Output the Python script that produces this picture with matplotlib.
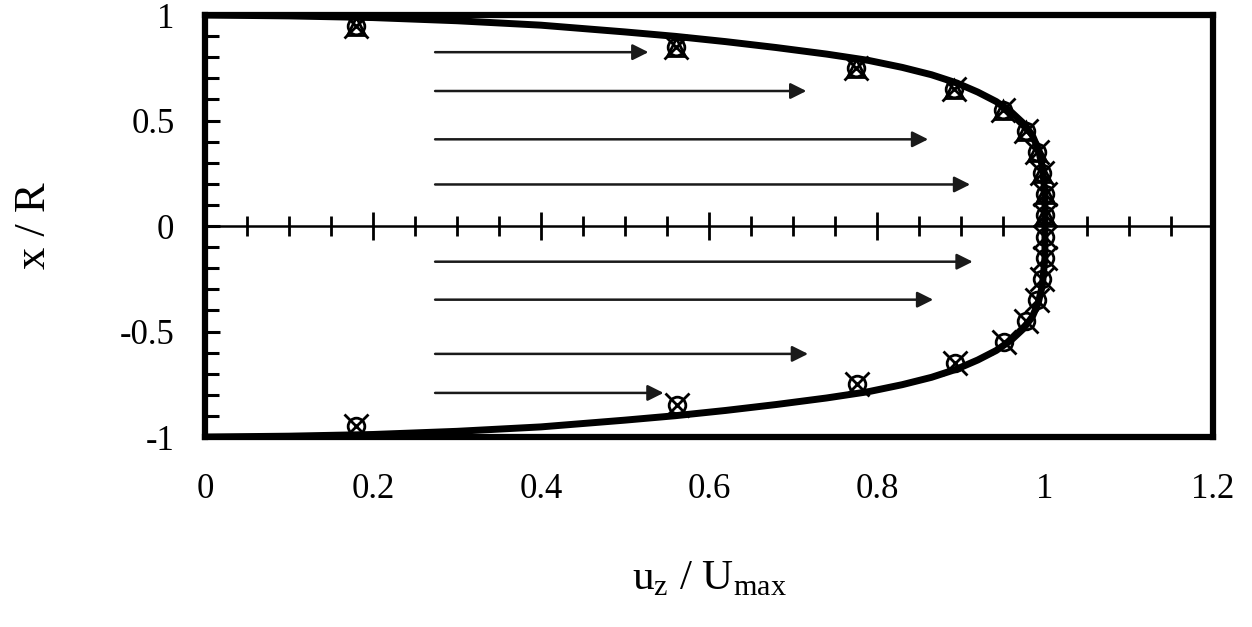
import numpy as np
import matplotlib
matplotlib.use("Agg")
import matplotlib.pyplot as plt
import matplotlib.ticker as mticker

plt.rcParams["font.family"] = ["Liberation Serif", "DejaVu Serif"]
plt.rcParams["mathtext.fontset"] = "custom"
plt.rcParams["mathtext.rm"] = "Liberation Serif"

# ── Data ──────────────────────────────────────────
# profile curve, upper half (u/Umax, x/R); mirrored for lower half
curve_u = [0.0, 0.10, 0.20, 0.30, 0.40, 0.50, 0.56, 0.62, 0.68, 0.74, 0.79,
           0.83, 0.865, 0.895, 0.92, 0.942, 0.96, 0.974, 0.985, 0.992, 0.997,
           1.0, 1.0]
curve_x = [1.0, 0.996, 0.988, 0.973, 0.952, 0.920, 0.899, 0.874, 0.846, 0.815,
           0.785, 0.752, 0.717, 0.678, 0.635, 0.590, 0.540, 0.488, 0.430,
           0.365, 0.280, 0.150, 0.0]

# measured points
pts_x_top = [0.95, 0.85, 0.75, 0.65, 0.55, 0.45, 0.35, 0.25, 0.15, 0.05]
pts_u_top = [0.18, 0.561, 0.775, 0.892, 0.950, 0.977, 0.990, 0.997, 1.0, 1.0]
pts_x_bot = [-0.05, -0.15, -0.25, -0.35, -0.45, -0.55, -0.65, -0.75, -0.85, -0.95]
pts_u_bot = [1.0, 1.0, 0.997, 0.991, 0.977, 0.951, 0.893, 0.776, 0.562, 0.18]

# velocity arrows
arrow_start = 0.274
arrow_x = [0.824, 0.64, 0.411, 0.197, -0.169, -0.349, -0.606, -0.791]
arrow_end = [0.528, 0.716, 0.861, 0.911, 0.914, 0.867, 0.718, 0.546]

# ── Plot ──────────────────────────────────────────
fig = plt.figure(figsize=(12.52, 6.27), dpi=100)
ax = fig.add_axes([0.1637, 0.303, 0.8051, 0.673])

cu = np.array(curve_u)
cx = np.array(curve_x)
full_u = np.concatenate([cu, cu[::-1][1:]])
full_x = np.concatenate([cx, -cx[::-1][1:]])

all_u = pts_u_top + pts_u_bot
all_x = pts_x_top + pts_x_bot
ax.plot(all_u, all_x, "o", ms=12, mfc="none", mec="black", mew=2.0, zorder=3)
ax.plot(all_u, all_x, "x", ms=17, mec="black", mew=2.0, zorder=3)
ax.plot(pts_u_top, pts_x_top, "^", ms=13, mfc="none", mec="black", mew=2.0, zorder=3)

ax.plot(full_u, full_x, color="black", lw=5, solid_joinstyle="round", zorder=4)

for y, e in zip(arrow_x, arrow_end):
    ax.annotate("", xy=(e, y), xytext=(arrow_start, y),
                arrowprops=dict(arrowstyle="-|>", color="#1a1a1a", lw=1.8,
                                mutation_scale=24, shrinkA=0, shrinkB=0))

ax.set_xlim(0, 1.2)
ax.set_ylim(-1, 1)

for s in ax.spines.values():
    s.set_linewidth(4.5)

ax.xaxis.set_major_locator(mticker.MultipleLocator(0.2))
ax.xaxis.set_major_formatter(mticker.FuncFormatter(lambda v, p: f"{v:g}"))
ax.yaxis.set_major_locator(mticker.MultipleLocator(0.5))
ax.yaxis.set_minor_locator(mticker.MultipleLocator(0.1))
ax.yaxis.set_major_formatter(mticker.FuncFormatter(lambda v, p: f"{v:g}"))
ax.tick_params(axis="x", length=0, pad=26, labelsize=25)
ax.tick_params(axis="y", which="major", direction="in", length=11, width=2.2,
               pad=22, labelsize=25)
ax.tick_params(axis="y", which="minor", direction="in", length=10, width=2.2)

# centre line with ticks
sec = ax.secondary_xaxis(0.5)
sec.spines["top"].set_linewidth(1.8)
sec.spines["bottom"].set_linewidth(1.8)
sec.xaxis.set_major_locator(mticker.MultipleLocator(0.2))
sec.xaxis.set_minor_locator(mticker.MultipleLocator(0.05))
sec.xaxis.set_major_formatter(mticker.NullFormatter())
sec.tick_params(which="major", direction="inout", length=20, width=2.0,
                labeltop=False, labelbottom=False)
sec.tick_params(which="minor", direction="inout", length=15, width=2.0)

ax.set_xlabel(r"u$_\mathrm{z}$ / U$_\mathrm{max}$", fontsize=31)
ax.xaxis.set_label_coords(0.5, -0.29)
ax.set_ylabel("x / R", fontsize=32)
ax.yaxis.set_label_coords(-0.15, 0.5)

fig.savefig("out.png", dpi=100)
